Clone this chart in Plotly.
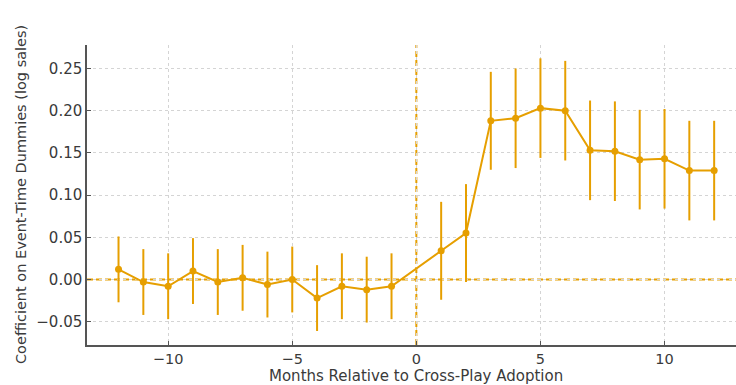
import plotly.graph_objects as go

# Event-time coefficients with 95% confidence half-widths
months = [-12, -11, -10, -9, -8, -7, -6, -5, -4, -3, -2, -1,
          1, 2, 3, 4, 5, 6, 7, 8, 9, 10, 11, 12]
coef = [0.012, -0.003, -0.008, 0.010, -0.003, 0.002, -0.006, 0.000, -0.022, -0.008, -0.012, -0.008,
        0.034, 0.055, 0.188, 0.191, 0.203, 0.200, 0.153, 0.152, 0.142, 0.143, 0.129, 0.129]
ci = [0.039, 0.039, 0.039, 0.039, 0.039, 0.039, 0.039, 0.039, 0.039, 0.039, 0.039, 0.039,
      0.058, 0.058, 0.058, 0.059, 0.059, 0.059, 0.059, 0.059, 0.059, 0.059, 0.059, 0.059]

x_ticks = [-10, -5, 0, 5, 10]
y_ticks = [-0.05, 0.00, 0.05, 0.10, 0.15, 0.20, 0.25]

ORANGE = "#E69F00"
TEXT = "#3a3a3a"
FONT = "DejaVu Sans"

fig = go.Figure()

fig.add_trace(go.Scatter(
    x=months, y=coef,
    mode="lines+markers",
    line=dict(color=ORANGE, width=2),
    marker=dict(color=ORANGE, size=7),
    error_y=dict(type="data", array=ci, visible=True, color=ORANGE,
                 thickness=2, width=0),
    showlegend=False,
))

# Reference lines at zero effect and at adoption month
fig.add_hline(y=0, line=dict(color=ORANGE, width=2, dash="6px,3px"), layer="below")
fig.add_vline(x=0, line=dict(color=ORANGE, width=2, dash="6px,3px"), layer="below")

fig.update_xaxes(
    range=[-13.27, 12.88],
    tickvals=x_ticks,
    ticktext=[f"{v}".replace("-", "\u2212") for v in x_ticks],
    showgrid=True, gridcolor="#d4d4d4", gridwidth=1, griddash="dot",
    zeroline=False,
    showline=True, linecolor="#555555", linewidth=1.5,
    ticks="inside", ticklen=4, tickcolor="#555555",
    ticklabelstandoff=0,
    tickfont=dict(family=FONT, size=14.5, color=TEXT),
)
fig.update_yaxes(
    range=[-0.0776, 0.2778],
    tickvals=y_ticks,
    ticktext=[f"{v:.2f}".replace("-", "\u2212") for v in y_ticks],
    showgrid=True, gridcolor="#d4d4d4", gridwidth=1, griddash="dot",
    zeroline=False,
    showline=True, linecolor="#555555", linewidth=1.5,
    ticks="inside", ticklen=4, tickcolor="#555555",
    tickfont=dict(family=FONT, size=15, color=TEXT),
)

fig.add_annotation(
    text="Coefficient on Event-Time Dummies (log sales)",
    xref="paper", yref="paper", x=(21 - 87) / 649, y=0.5,
    xanchor="center", yanchor="middle", textangle=-90, showarrow=False,
    font=dict(family=FONT, size=14.5, color=TEXT),
)
fig.add_annotation(
    text="Months Relative to Cross-Play Adoption",
    xref="x", yref="paper", x=0, y=(345 - 375.5) / 300,
    xanchor="center", yanchor="middle", showarrow=False,
    font=dict(family=FONT, size=15, color=TEXT),
)

fig.update_layout(
    width=736, height=385,
    margin=dict(l=87, r=0, t=45, b=40),
    paper_bgcolor="white", plot_bgcolor="white",
)

fig.write_html("out.html")
